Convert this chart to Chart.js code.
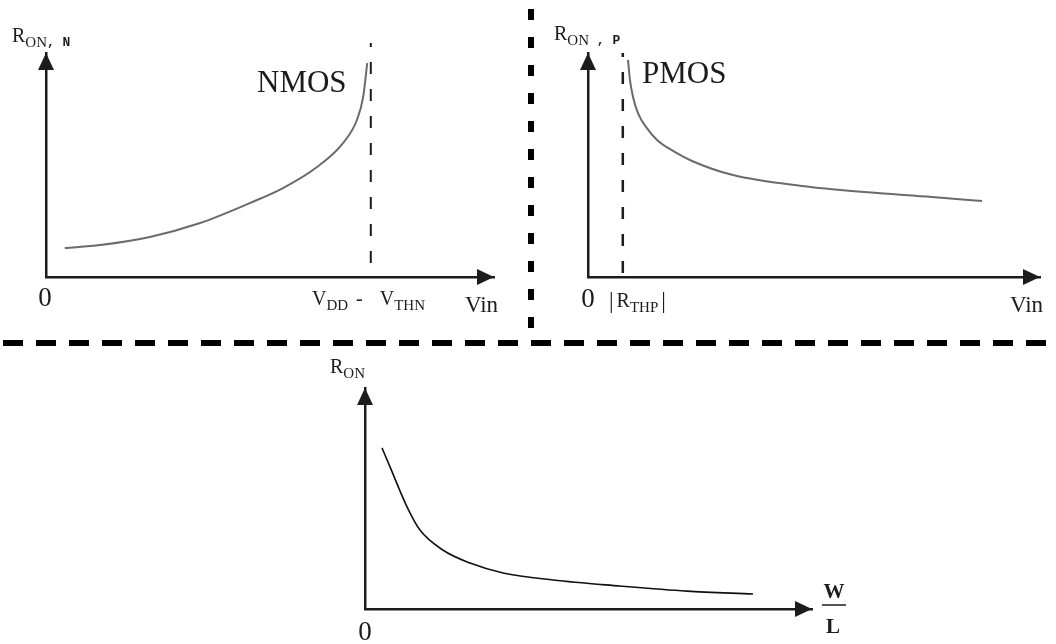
<!DOCTYPE html>
<html>
<head>
<meta charset="utf-8">
<script src="https://cdn.jsdelivr.net/npm/chart.js@4.4.1/dist/chart.umd.min.js"></script>
<style>
  html, body { margin: 0; padding: 0; background: #fff; }
  #wrap { position: relative; width: 1056px; height: 644px; overflow: hidden; background: #fff; }
  #wrap canvas { position: absolute; left: 0; top: 0; }
</style>
</head>
<body>
<div id="wrap">
  <canvas id="nmos" width="1056" height="644"></canvas>
  <canvas id="pmos" width="1056" height="644"></canvas>
  <canvas id="wl" width="1056" height="644"></canvas>
</div>
<script>
// NMOS on-resistance versus input voltage (axis units 0..10)
const nmosVin = [0.42, 1.21, 2.32, 3.44, 4.55, 5.29, 6.05, 6.63, 6.94, 7.08, 7.17];
const nmosRon = [1.29, 1.43, 1.79, 2.41, 3.30, 3.97, 4.91, 5.98, 7.01, 8.04, 9.55];
const nmosLimitVin = 7.25;            // V_DD - V_THN
const nmosLimitSpan = [0.63, 10.45];

// PMOS on-resistance versus input voltage
const pmosVin = [0.885, 0.929, 0.996, 1.106, 1.283, 1.527, 1.881, 2.301, 3.208, 4.735, 6.106, 7.611, 8.717];
const pmosRon = [9.69, 8.79, 8.04, 7.32, 6.70, 6.12, 5.63, 5.18, 4.55, 4.06, 3.79, 3.57, 3.39];
const pmosLimitVin = 0.77;            // |V_THP|
const pmosLimitSpan = [0.18, 10.0];

// On-resistance versus W/L
const wlRatio = [0.38, 0.56, 0.94, 1.23, 1.74, 2.35, 3.09, 4.21, 5.70, 7.20, 8.68];
const wlRon   = [7.29, 6.43, 4.62, 3.57, 2.67, 2.08, 1.63, 1.31, 1.04, 0.81, 0.68];

// Axis labels, as [text, role] runs (role: main / sub / mono / bar / gap)
const nmosYLabel = [['R', 'main'], ['ON', 'sub'], [', N', 'mono']];
const pmosYLabel = [['R', 'main'], ['ON', 'sub'], [' , P', 'mono']];
const wlYLabel   = [['R', 'main'], ['ON', 'sub']];
const nmosTickLabels = [['V', 'main'], ['DD', 'sub'], [8, 'gap'], ['-', 'main'], [17, 'gap'], ['V', 'main'], ['THN', 'sub']];
const pmosTickLabels = [['|', 'bar'], [3, 'gap'], ['R', 'main'], ['THP', 'sub'], [3, 'gap'], ['|', 'bar']];
const xTitle = 'Vin';
const zeroLabel = '0';
const ratioTop = 'W';
const ratioBottom = 'L';

const SERIF = '"Liberation Serif", "Times New Roman", serif';
const MONO = '"Liberation Mono", "DejaVu Sans Mono", monospace';
const INK = '#1c1c1c';

const RUN_STYLE = {
  main: { font: '20px ' + SERIF, dy: 0 },
  sub:  { font: '15px ' + SERIF, dy: 5 },
  mono: { font: 'bold 13px ' + MONO, dy: 4 },
  bar:  { font: '23px ' + SERIF, dy: 1 }
};

function drawRuns(ctx, x, y, runs) {
  ctx.save();
  ctx.fillStyle = INK;
  ctx.textBaseline = 'alphabetic';
  ctx.textAlign = 'left';
  for (const [t, role] of runs) {
    if (role === 'gap') { x += t; continue; }
    const st = RUN_STYLE[role];
    ctx.font = st.font;
    ctx.fillText(t, x, y + st.dy);
    x += ctx.measureText(t).width;
  }
  ctx.restore();
}

function drawText(ctx, t, x, y, font, align) {
  ctx.save();
  ctx.fillStyle = INK;
  ctx.font = font;
  ctx.textAlign = align || 'left';
  ctx.textBaseline = 'alphabetic';
  ctx.fillText(t, x, y);
  ctx.restore();
}

// Filled arrowheads at the far ends of both axes
function drawArrows(ctx, area) {
  ctx.save();
  ctx.fillStyle = INK;
  const ox = area.left, oy = area.bottom;
  ctx.beginPath();
  ctx.moveTo(ox, area.top);
  ctx.lineTo(ox - 8, area.top + 17);
  ctx.lineTo(ox + 8, area.top + 17);
  ctx.closePath();
  ctx.fill();
  ctx.beginPath();
  ctx.moveTo(area.right, oy);
  ctx.lineTo(area.right - 17, oy - 8);
  ctx.lineTo(area.right - 17, oy + 8);
  ctx.closePath();
  ctx.fill();
  ctx.restore();
}

// Thick dashed separators between the three panels
function drawSeparators(ctx) {
  ctx.save();
  ctx.strokeStyle = '#000';
  ctx.lineCap = 'butt';
  ctx.lineWidth = 6;
  ctx.setLineDash([11, 17]);
  ctx.beginPath();
  ctx.moveTo(531, 9);
  ctx.lineTo(531, 339);
  ctx.stroke();
  ctx.setLineDash([20, 13]);
  ctx.beginPath();
  ctx.moveTo(3, 343);
  ctx.lineTo(1056, 343);
  ctx.stroke();
  ctx.restore();
}

function axisScale() {
  return {
    type: 'linear', min: 0, max: 10,
    grid: { display: false, drawTicks: false },
    ticks: { display: false },
    border: { display: true, color: INK, width: 2.5 }
  };
}

function makeChart(id, area, datasets, decorate) {
  return new Chart(document.getElementById(id), {
    type: 'scatter',
    data: { datasets },
    options: {
      responsive: false,
      animation: false,
      devicePixelRatio: 1,
      events: [],
      layout: { padding: { left: area.left, top: area.top, right: 1056 - area.right, bottom: 644 - area.bottom } },
      plugins: { legend: { display: false }, tooltip: { enabled: false } },
      scales: { x: axisScale(), y: axisScale() }
    },
    plugins: [{ id: id + 'Decor', afterDraw: decorate }]
  });
}

function points(xs, ys) {
  return xs.map((x, i) => ({ x, y: ys[i] }));
}

function curve(xs, ys, color, width) {
  return {
    data: points(xs, ys), showLine: true, fill: false,
    borderColor: color, borderWidth: width, pointRadius: 0,
    cubicInterpolationMode: 'monotone', clip: false
  };
}

function limitLine(x, span, width) {
  return {
    data: [{ x, y: span[0] }, { x, y: span[1] }], showLine: true, fill: false,
    borderColor: INK, borderWidth: width, borderDash: [12, 15], pointRadius: 0, clip: false
  };
}

// NMOS panel
makeChart('nmos', { left: 46, top: 53, right: 494, bottom: 277 },
  [curve(nmosVin, nmosRon, '#6b6b6b', 2), limitLine(nmosLimitVin, nmosLimitSpan, 2)],
  chart => {
    const ctx = chart.ctx, a = chart.chartArea, xs = chart.scales.x;
    drawSeparators(ctx);
    drawArrows(ctx, a);
    drawRuns(ctx, 12, 42, nmosYLabel);
    drawText(ctx, 'NMOS', 257, 92, '31px ' + SERIF);
    drawText(ctx, zeroLabel, xs.getPixelForValue(0) - 1, 306, '27px ' + SERIF, 'center');
    drawRuns(ctx, 312, 305, nmosTickLabels);
    drawText(ctx, xTitle, 465, 312, '23px ' + SERIF);
  });

// PMOS panel
makeChart('pmos', { left: 588, top: 53, right: 1040, bottom: 277 },
  [curve(pmosVin, pmosRon, '#6b6b6b', 2), limitLine(pmosLimitVin, pmosLimitSpan, 2.5)],
  chart => {
    const ctx = chart.ctx, a = chart.chartArea, xs = chart.scales.x;
    drawArrows(ctx, a);
    drawRuns(ctx, 554, 40, pmosYLabel);
    drawText(ctx, 'PMOS', 642, 83, '31px ' + SERIF);
    drawText(ctx, zeroLabel, xs.getPixelForValue(0), 307, '27px ' + SERIF, 'center');
    drawRuns(ctx, 609, 307, pmosTickLabels);
    drawText(ctx, xTitle, 1010, 312, '23px ' + SERIF);
  });

// W/L panel
makeChart('wl', { left: 365, top: 388, right: 812, bottom: 609 },
  [curve(wlRatio, wlRon, '#111', 1.6)],
  chart => {
    const ctx = chart.ctx, a = chart.chartArea, xs = chart.scales.x;
    drawArrows(ctx, a);
    drawRuns(ctx, 330, 373, wlYLabel);
    drawText(ctx, zeroLabel, xs.getPixelForValue(0), 640, '27px ' + SERIF, 'center');
    drawText(ctx, ratioTop, 834, 598, 'bold 21px ' + SERIF, 'center');
    ctx.save();
    ctx.strokeStyle = INK;
    ctx.lineWidth = 1.5;
    ctx.beginPath();
    ctx.moveTo(822, 605);
    ctx.lineTo(846, 605);
    ctx.stroke();
    ctx.restore();
    drawText(ctx, ratioBottom, 833, 633, 'bold 21px ' + SERIF, 'center');
  });
</script>
</body>
</html>
